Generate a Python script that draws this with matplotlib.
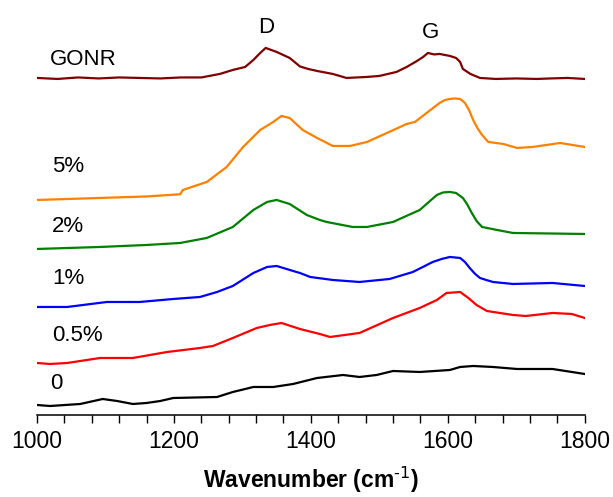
#!/usr/bin/env python3
"""Stacked Raman spectra of GONR and the composite series (0-5 %)."""

import matplotlib

matplotlib.use("Agg")
import matplotlib.pyplot as plt
from matplotlib.ticker import MultipleLocator

plt.rcParams.update({
    "font.family": ["Liberation Sans", "DejaVu Sans"],
    "font.size": 16,
    "axes.unicode_minus": False,
})

# Raman shift (cm^-1) and baseline-relative intensity (a.u.) for each sample
w_gonr = [1000, 1030, 1060, 1090, 1120, 1150, 1180, 1210, 1240, 1267, 1286, 1304,
          1316, 1326, 1334, 1342, 1350, 1369, 1384, 1396, 1409, 1432, 1452, 1482,
          1500, 1525, 1540, 1555, 1564, 1571, 1580, 1588, 1603, 1612, 1618, 1622,
          1633, 1647, 1670, 1700, 1730, 1750, 1775, 1800]
i_gonr = [0, -1, 0.5, -0.5, 0.5, 0, -0.5, 0.5, 0.5, 4, 8, 11,
          18, 25, 30, 28, 26, 20, 11.5, 9, 7, 4, 0, 1,
          2, 6, 11, 17, 21, 25, 23.5, 24, 22, 20, 16, 9,
          4, 0, -1, -0.5, -1, -0.5, 0, -1]

w_5 = [1000, 1092, 1160, 1209, 1213, 1248, 1277, 1301, 1326, 1345, 1357, 1369,
       1388, 1409, 1432, 1457, 1482, 1511, 1540, 1552, 1569, 1588, 1596, 1603,
       1610, 1618, 1625, 1631, 1637, 1644, 1650, 1659, 1681, 1701, 1724, 1764, 1800]
i_5 = [0, 2, 3.5, 5.7, 10, 18, 33, 53, 70, 78, 84, 82,
       70, 62, 54, 54, 58, 67, 76, 78, 87, 97, 100, 101,
       101.5, 101, 97, 90, 80, 71, 65, 58, 56, 52, 53, 57, 53]

w_2 = [1000, 1092, 1160, 1209, 1248, 1286, 1316, 1336, 1350, 1369, 1394, 1413,
       1423, 1461, 1482, 1520, 1559, 1584, 1593, 1603, 1612, 1622, 1628, 1635,
       1642, 1650, 1672, 1695, 1800]
i_2 = [0, 2, 4, 6, 11, 22, 39, 47, 49, 45, 34, 29,
       27, 22, 22, 27, 39, 54, 56.5, 57, 56, 51, 45, 36,
       28, 22, 19, 16, 15]

w_1 = [1000, 1044, 1102, 1150, 1199, 1238, 1263, 1286, 1316, 1336, 1350, 1374,
       1384, 1399, 1432, 1471, 1515, 1549, 1578, 1591, 1603, 1618, 1625, 1632,
       1640, 1647, 1656, 1666, 1695, 1753, 1800]
i_1 = [0, 0, 5, 5, 8, 10, 15, 21, 34, 40, 41, 36,
       34, 30, 27, 25, 28, 35, 45, 48, 50, 49, 45, 39,
       33, 29, 27, 25, 23, 24, 21]

w_05 = [1000, 1019, 1044, 1092, 1140, 1190, 1238, 1257, 1286, 1321, 1340, 1357,
        1384, 1413, 1428, 1471, 1520, 1559, 1584, 1598, 1608, 1618, 1630, 1642,
        1657, 1695, 1714, 1753, 1781, 1800]
i_05 = [0, -1, 0, 5, 5, 11, 15, 17, 25, 35, 38, 40,
        34, 29, 26, 30, 45, 55, 63, 70, 70.5, 71, 65, 58,
        52, 48, 47, 50, 49, 45]

w_0 = [1000, 1019, 1063, 1096, 1117, 1140, 1160, 1180, 1199, 1263, 1286, 1316,
       1345, 1374, 1409, 1447, 1471, 1496, 1520, 1559, 1603, 1618, 1637, 1666,
       1701, 1753, 1800]
i_0 = [0, -1, 1, 6, 4, 1, 2, 4, 7, 8, 13, 18,
       18, 21, 27, 30, 28, 30, 34, 33, 35, 38, 39, 38,
       36, 36, 31]

labels = ["0", "0.5%", "1%", "2%", "5%", "GONR"]
offsets = [10, 52, 108, 166, 215, 337]
colors = ["#000000", "#ff0000", "#0000ff", "#008000", "#ff8000", "#800000"]
spectra = [(w_0, i_0), (w_05, i_05), (w_1, i_1), (w_2, i_2), (w_5, i_5), (w_gonr, i_gonr)]

# where each sample name sits (x, height above the curve's baseline)
label_x = [1019, 1022, 1022, 1022, 1022, 1019]
label_dy = [21, 27, 28, 22, 33, 18]

fig = plt.figure(figsize=(6.13, 4.97), dpi=100)
ax = fig.add_axes([0.0604, 0.165, 0.8935, 0.815])

for (w, inten), off, col in zip(spectra, offsets, colors):
    ax.plot(w, [v + off for v in inten], color=col, lw=1.6, solid_joinstyle="round")

for lab, off, lx, dy in zip(labels, offsets, label_x, label_dy):
    ax.text(lx, off + dy, lab, ha="left", va="center", fontsize=16)

ax.text(1334, 387, "D", ha="center", va="center", fontsize=16)
ax.text(1574, 382, "G", ha="center", va="center", fontsize=16)

ax.set_xlim(1000, 1800)
ax.set_ylim(0, 405)
ax.xaxis.set_major_locator(MultipleLocator(200))
ax.xaxis.set_minor_locator(MultipleLocator(40))
ax.tick_params(axis="x", which="both", direction="out", length=6, width=1.0,
               labelsize=16.5, pad=5)
ax.set_yticks([])
for side in ("left", "right", "top"):
    ax.spines[side].set_visible(False)
ax.spines["bottom"].set_linewidth(1.1)
ax.set_xlabel("Wavenumber (cm$^{\\text{-1}}$)", fontsize=16.5,
              fontweight="bold", labelpad=8)

fig.savefig("out.png", dpi=100, facecolor="white")
